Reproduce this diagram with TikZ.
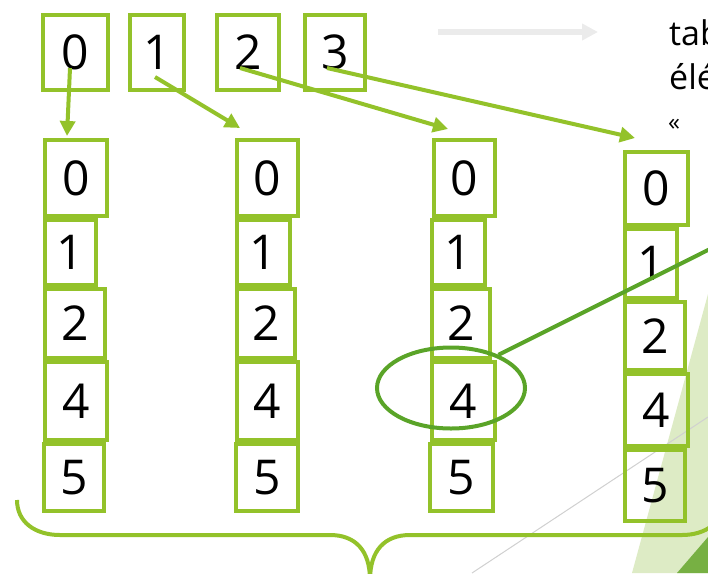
\documentclass[tikz,border=0pt]{standalone}
\usepackage{fontspec}
\setmainfont{Open Sans}
\usetikzlibrary{arrows.meta,shapes.geometric,calc}
\definecolor{bgreen}{HTML}{93C22A}
\definecolor{egreen}{HTML}{5AA428}
\definecolor{lgreen}{HTML}{DDEBC5}
\definecolor{dgreen}{HTML}{77B043}
\definecolor{lgray}{HTML}{EBEBEB}
\definecolor{lline}{HTML}{D0D0D0}
\newcommand{\cellbox}[6]{%
  \pgfmathsetmacro{\cbw}{#4-#2-4}%
  \pgfmathsetmacro{\cbh}{#5-#3-4}%
  \node[cell, minimum width=\cbw pt, minimum height=\cbh pt] (#1) at ({(#2+#4)/2},{(#3+#5)/2}) {#6};}
\begin{document}
\begin{tikzpicture}[x=1pt,y=-1pt,
  cell/.style={draw=bgreen, line width=4pt, inner sep=0pt, font=\fontsize{48}{48}\selectfont},
  link/.style={draw=bgreen, line width=4pt, -{Triangle[length=15pt,width=15pt]}},
  grayarrow/.style={draw=lgray, line width=6pt, -{Triangle[length=16pt,width=16pt]}},
  lbl/.style={anchor=base west, inner sep=0pt, font=\fontsize{34}{34}\selectfont}]
\useasboundingbox (0,0) rectangle (708,573);
\clip (0,0) rectangle (708,573);
% background decoration
\fill[lgreen] (632,573) -- (708,294) -- (708,573) -- cycle;
\fill[dgreen] (677,573) -- (708,537) -- (708,573) -- cycle;
\draw[lline, line width=1pt] (472,573) -- (708,417);
% top row
\cellbox{t0}{41}{13}{110}{92}{0}
\cellbox{t1}{128}{13}{186}{92}{1}
\cellbox{t2}{215}{13}{281}{92}{2}
\cellbox{t3}{303}{13}{367}{92}{3}
% column 1
\cellbox{a0}{43}{138}{109}{218}{0}
\cellbox{a1}{43}{218}{98}{287}{1}
\cellbox{a2}{43}{287}{107}{360}{2}
\cellbox{a4}{43}{360}{109}{442}{4}
\cellbox{a5}{42}{442}{106}{513}{5}
% column 2
\cellbox{b0}{235}{138}{300}{218}{0}
\cellbox{b1}{235}{218}{292}{287}{1}
\cellbox{b2}{235}{287}{297}{360}{2}
\cellbox{b4}{235}{360}{300}{442}{4}
\cellbox{b5}{234}{442}{300}{513}{5}
% column 3
\cellbox{c0}{432}{138}{497}{218}{0}
\cellbox{c1}{430}{218}{487}{287}{1}
\cellbox{c2}{430}{287}{492}{360}{2}
\cellbox{c4}{430}{360}{497}{442}{4}
\cellbox{c5}{428}{442}{495}{513}{5}
% column 4
\cellbox{d0}{623}{150}{690}{227}{0}
\cellbox{d1}{623}{227}{679}{300}{1}
\cellbox{d2}{623}{300}{687}{372}{2}
\cellbox{d4}{623}{372}{690}{448}{4}
\cellbox{d5}{623}{448}{687}{523}{5}
% arrows
\draw[link] ($(t0)+(-5.5,15.5)$) -- ($(a0.north)+(-9,-2)$);
\draw[link] ($(t1)+(-2,24.5)$) -- ($(b0.north)+(-27.5,-10)$);
\draw[link] ($(t2)+(-8,15.5)$) -- ($(c0.north)+(-16.5,-9)$);
\draw[link] ($(t3)+(-8,15.5)$) -- ($(d0.north)+(-21.5,-12)$);
% ellipse and pointer
\node[draw=egreen, line width=4pt, ellipse, minimum width=148pt, minimum height=81pt, inner sep=0pt] (ell) at (451,388) {};
\coordinate (pend) at (732,238);
\draw[egreen, line width=4pt] (ell.35) -- (pend);
% brace
\coordinate (bl) at (17,500);
\coordinate (br) at (724,500);
\draw[bgreen, line width=4pt] (bl) .. controls (17,522) and (35,535) .. (60,535) -- (330,535)
  .. controls (355,535) and (370,550) .. (370,580);
\draw[bgreen, line width=4pt] (370,580) .. controls (370,550) and (385,535) .. (410,535) -- (682,535)
  .. controls (706,535) and (724,522) .. (br);
% gray arrow and text
\coordinate (g1) at (438,32);
\coordinate (g2) at (598,32);
\draw[grayarrow] (g1) -- (g2);
\node[lbl] (l1) at (669,45) {tab};
\node[lbl] (l2) at (669,89) {élé};
\node[lbl, font=\fontsize{24}{24}\selectfont] (l3) at (668,130) {«};
\end{tikzpicture}
\end{document}
